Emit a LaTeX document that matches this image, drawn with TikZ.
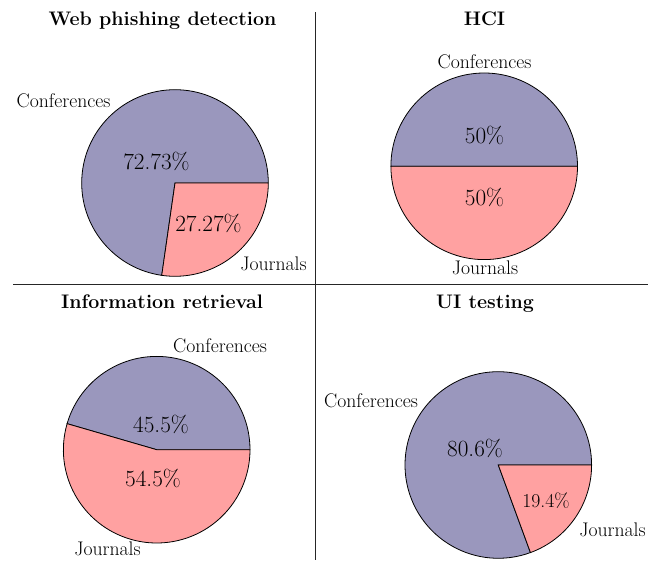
\documentclass[tikz,border=0pt]{standalone}
\usepackage{fontspec}
\definecolor{confcol}{RGB}{154,151,189}
\definecolor{jourcol}{RGB}{255,161,161}
\tikzset{
  slice/.style={draw=black, line width=0.8pt},
  conf/.style={slice, fill=confcol},
  jour/.style={slice, fill=jourcol},
  divider/.style={draw=black!85, line width=0.9pt},
  lbl/.style={anchor=base, inner sep=0pt, font=\fontsize{19.7pt}{22pt}\selectfont},
  pct/.style={anchor=base, inner sep=0pt, font=\fontsize{23.2pt}{26pt}\selectfont},
  pctsmall/.style={anchor=base, inner sep=0pt, font=\fontsize{19.7pt}{22pt}\selectfont},
  paneltitle/.style={anchor=base, inner sep=0pt, font=\fontsize{19.6pt}{22pt}\selectfont\bfseries},
}
\begin{document}
\begin{tikzpicture}[x=1pt, y=1pt]
\useasboundingbox (0,0) rectangle (656,560);

% panel dividers
\coordinate (vtop) at (315.3,547.5);
\coordinate (vbot) at (315.3,0);
\coordinate (hleft) at (13.3,276);
\coordinate (hright) at (648,276);
\draw[divider] (vtop) -- (vbot);
\draw[divider] (hleft) -- (hright);

% pie centres
\coordinate (c1) at (175,377);
\coordinate (c2) at (484.2,393.7);
\coordinate (c3) at (156.7,110.3);
\coordinate (c4) at (498.3,95);

% Web phishing detection: 72.73 / 27.27
\path[conf] (c1) -- ++(0:93.3pt) arc[start angle=0, end angle=261.83, radius=93.3pt] -- cycle;
\path[jour] (c1) -- ++(0:93.3pt) arc[start angle=0, end angle=-98.17, radius=93.3pt] -- cycle;

% HCI: 50 / 50
\path[conf] (c2) -- ++(0:93.3pt) arc[start angle=0, end angle=180, radius=93.3pt] -- cycle;
\path[jour] (c2) -- ++(180:93.3pt) arc[start angle=180, end angle=360, radius=93.3pt] -- cycle;

% Information retrieval: 45.5 / 54.5
\path[conf] (c3) -- ++(0:93.3pt) arc[start angle=0, end angle=163.8, radius=93.3pt] -- cycle;
\path[jour] (c3) -- ++(163.8:93.3pt) arc[start angle=163.8, end angle=360, radius=93.3pt] -- cycle;

% UI testing: 80.6 / 19.4
\path[conf] (c4) -- ++(0:93.3pt) arc[start angle=0, end angle=290.16, radius=93.3pt] -- cycle;
\path[jour] (c4) -- ++(0:93.3pt) arc[start angle=0, end angle=-69.84, radius=93.3pt] -- cycle;

% titles
\node[paneltitle] (t1) at (162.5,534) {Web phishing detection};
\node[paneltitle] (t2) at (484.5,534) {HCI};
\node[paneltitle] (t3) at (162,251) {Information retrieval};
\node[paneltitle] (t4) at (485,251) {UI testing};

% category labels
\node[lbl] (l1c) at (63.5,452) {Conferences};
\node[lbl] (l1j) at (273.5,289) {Journals};
\node[lbl] (l2c) at (484.5,491) {Conferences};
\node[lbl] (l2j) at (485,285) {Journals};
\node[lbl] (l3c) at (220,207) {Conferences};
\node[lbl] (l3j) at (107.5,4.5) {Journals};
\node[lbl] (l4c) at (371,152) {Conferences};
\node[lbl] (l4j) at (612.5,24) {Journals};

% percentages
\node[pct] (p1c) at (156.5,390) {72.73\%};
\node[pct] (p1j) at (208.5,328) {27.27\%};
\node[pct] (p2c) at (484.5,416) {50\%};
\node[pct] (p2j) at (484.5,354) {50\%};
\node[pct] (p3c) at (161,128) {45.5\%};
\node[pct] (p3j) at (153,74) {54.5\%};
\node[pct] (p4c) at (475,103) {80.6\%};
\node[pctsmall] (p4j) at (546,53) {19.4\%};
\end{tikzpicture}
\end{document}
